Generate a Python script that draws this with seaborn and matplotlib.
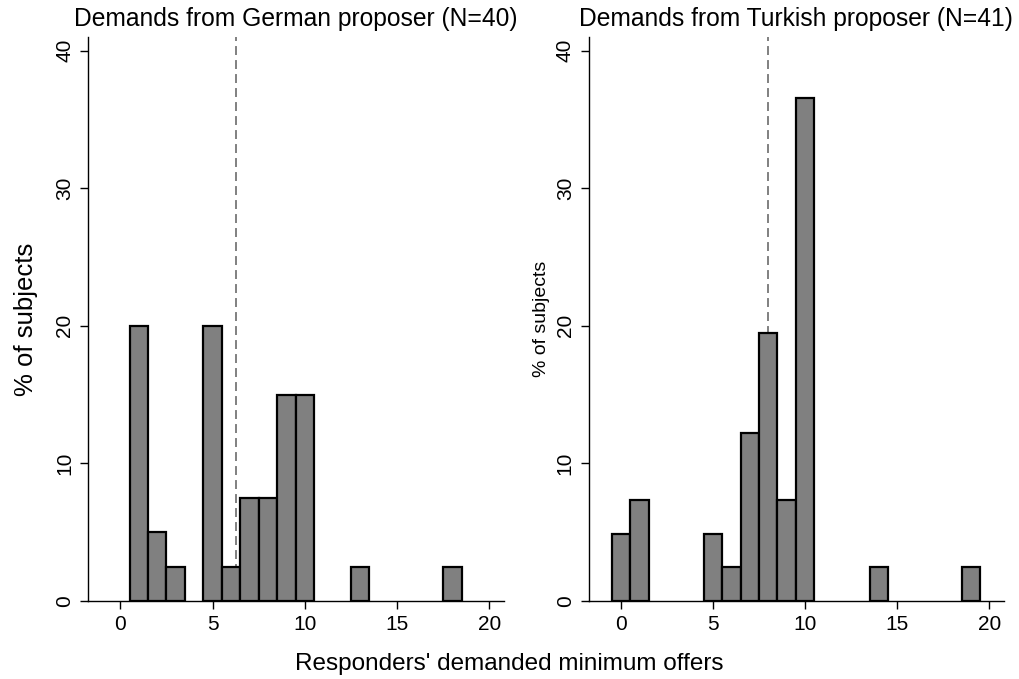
import numpy as np
import pandas as pd
import matplotlib
matplotlib.use("Agg")
import matplotlib.pyplot as plt
import seaborn as sns

# Minimum offers demanded by responders and number of responders per value
german_offers = [1, 2, 3, 5, 6, 7, 8, 9, 10, 13, 18]
german_counts = [8, 2, 1, 8, 1, 3, 3, 6, 6, 1, 1]
turkish_offers = [0, 1, 5, 6, 7, 8, 9, 10, 14, 19]
turkish_counts = [2, 3, 2, 1, 5, 8, 3, 15, 1, 1]

panel_titles = ["Demands from German proposer (N=40)",
                "Demands from Turkish proposer (N=41)"]
x_ticks = [0, 5, 10, 15, 20]
y_ticks = [0, 10, 20, 30, 40]

sns.set_style("white")
plt.rcParams["font.family"] = ["Liberation Sans", "DejaVu Sans"]
plt.rcParams["text.color"] = "black"
plt.rcParams["axes.labelcolor"] = "black"
plt.rcParams["xtick.color"] = "black"
plt.rcParams["ytick.color"] = "black"

fig = plt.figure(figsize=(10.19, 6.79), dpi=100)
ax_l = fig.add_axes([0.0864, 0.1149, 0.4082, 0.8306])
ax_r = fig.add_axes([0.5777, 0.1149, 0.4076, 0.8306])

panels = [
    (ax_l, german_offers, german_counts, panel_titles[0], 18.5, 12),
    (ax_r, turkish_offers, turkish_counts, panel_titles[1], 14, 4),
]

for ax, offers, counts, title, ylab_size, ylab_pad in panels:
    df = pd.DataFrame({"offer": np.repeat(offers, counts)})
    sns.histplot(data=df, x="offer", discrete=True, stat="percent",
                 shrink=1.0, color="#808080", edgecolor="black",
                 linewidth=1.6, alpha=1.0, ax=ax)
    # empty bins would otherwise leave a thick outline along the baseline
    for patch in ax.patches:
        if patch.get_height() == 0:
            patch.set_linewidth(0)
    mean_val = df["offer"].mean()
    ax.axvline(mean_val, color="#808080", linestyle=(0, (4.6, 2.6)),
               linewidth=1.4, zorder=0)
    ax.set_xlim(-1.75, 20.8)
    ax.set_ylim(0, 41)
    ax.set_xticks(x_ticks)
    ax.set_yticks(y_ticks)
    ax.tick_params(axis="both", direction="out", length=6, width=1,
                   color="black", labelcolor="black", labelsize=15, pad=4,
                   bottom=True, left=True)
    for lbl in ax.get_yticklabels():
        lbl.set_rotation(90)
        lbl.set_va("center")
    for side in ["top", "right"]:
        ax.spines[side].set_visible(False)
    for side in ["left", "bottom"]:
        ax.spines[side].set_color("black")
        ax.spines[side].set_linewidth(1.0)
    ax.set_title(title, fontsize=17.7, pad=8, color="black")
    ax.set_xlabel("")
    ax.set_ylabel("% of subjects", fontsize=ylab_size, labelpad=ylab_pad,
                  color="black")

fig.text(0.5, 0.006, "Responders' demanded minimum offers",
         ha="center", va="bottom", fontsize=17.5, color="black")

fig.savefig("out.png", dpi=100, facecolor="white")
